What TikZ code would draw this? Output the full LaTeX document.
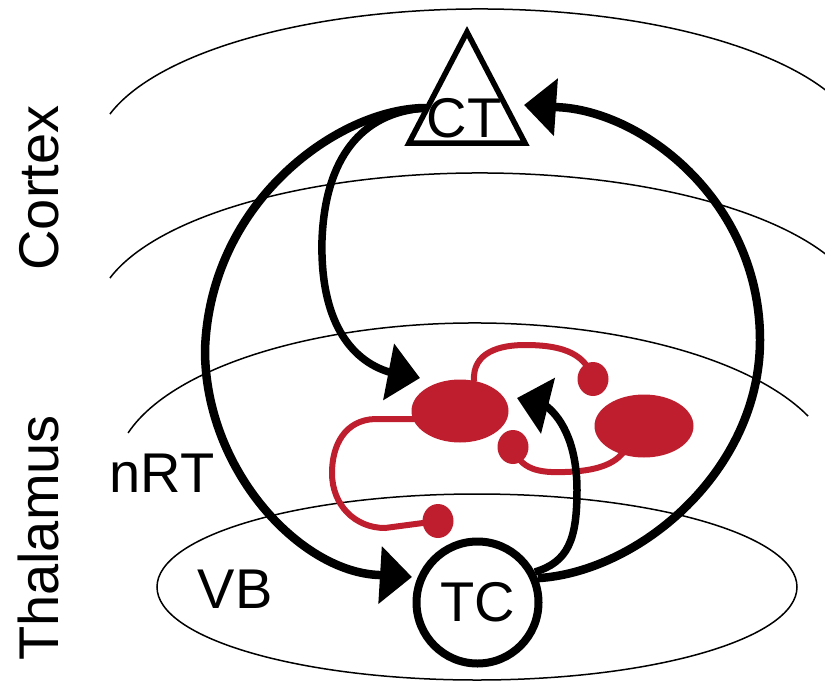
\documentclass[tikz,border=0pt]{standalone}
\usepackage{fontspec}
\setmainfont{Liberation Sans}
\usetikzlibrary{arrows.meta,shapes.geometric}
\definecolor{nrtred}{RGB}{190,30,45}
\begin{document}
\begin{tikzpicture}[x=1pt,y=-1pt,
  thinline/.style={line width=1.5pt},
  bigloop/.style={line width=8.5pt},
  innerarrow/.style={line width=7.5pt},
  bigtip/.style={-{Triangle[length=32pt,width=56pt]}},
  redline/.style={draw=nrtred,line width=6pt},
  lbl/.style={font=\fontsize{56}{60}\selectfont, inner sep=0pt},
  soma/.style={ellipse, fill=nrtred, inner sep=0pt},
  bouton/.style={ellipse, fill=nrtred, inner sep=0pt, minimum width=31pt, minimum height=34pt}]
\useasboundingbox (0,0) rectangle (825,683);
\clip (0,0) rectangle (825,683);

% layer boundaries
\draw[thinline] (480,154) ++(196:385 and 145) arc[start angle=196,end angle=345,x radius=385,y radius=145];
\draw[thinline] (480,318) ++(196:385 and 145) arc[start angle=196,end angle=345,x radius=385,y radius=145];
\draw[thinline] (475,473) ++(195.5:360 and 150) arc[start angle=195.5,end angle=337.7,x radius=360,y radius=150];
\draw[thinline] (477,587) ellipse[x radius=320,y radius=93];

% side labels
\node[lbl, rotate=90, anchor=base] (cortex) at (58,188) {Cortex};
\node[lbl, rotate=90, anchor=base] (thal) at (58,538) {Thalamus};
\node[lbl, anchor=base] (nrt) at (162,492) {nRT};
\node[lbl, anchor=base] (vb) at (235,608) {VB};

% red nRT neurons
\node[soma, minimum width=97pt, minimum height=63pt] (n1) at (460,411) {};
\node[soma, minimum width=99pt, minimum height=63pt] (n2) at (644,426) {};
\node[bouton] (b1) at (593,379) {};
\node[bouton] (b2) at (513,447) {};
\node[bouton] (b3) at (438,521) {};
\draw[redline] (n1.north) ++(14,2) .. controls (472,352) and (500,345) .. (525,345) .. controls (555,345) and (585,350) .. (b1.center);
\draw[redline] (n1.west) ++(4,8) -- (375,419) .. controls (345,420) and (332,445) .. (332,473) .. controls (332,505) and (355,528) .. (385,528) -- (b3.center);
\draw[redline] (b2.center) .. controls (520,470) and (540,473) .. (565,472) .. controls (595,471) and (615,465) .. (625,450);

% TC cell
\node[circle, draw, line width=8pt, fill=white, minimum size=122pt, inner sep=0pt, font=\fontsize{56}{60}\selectfont] (TC) at (477.5,602.5) {TC};

% connection points
\coordinate (ctL) at (426,108);
\coordinate (ctR) at (524,105);
\coordinate (tcin) at (412,577);
\coordinate (n1in) at (420,378);
\coordinate (n1up) at (517,398);

% connectors
\draw[bigloop,bigtip] (ctL) .. controls (340,108) and (210,200) .. (205,350) .. controls (205,470) and (300,572) .. (379,575) -- (tcin);
\draw[bigloop,bigtip] (TC.22) .. controls (640,572) and (760,470) .. (760,340) .. controls (760,200) and (640,108) .. (553,107) -- (ctR);
\draw[innerarrow,bigtip] (ctL) .. controls (360,112) and (325,160) .. (322,240) .. controls (320,320) and (350,360) .. (389,372) -- (n1in);
\draw[innerarrow,bigtip] (TC.28) .. controls (568,562) and (577,540) .. (577,490) .. controls (577,450) and (565,420) .. (545,405) -- (n1up);

% CT cell
\draw[line width=5.5pt, fill=white] (467,32) -- (525,143) -- (409,143) -- cycle;
\node[lbl, anchor=base] (CT) at (464,137) {CT};
\end{tikzpicture}
\end{document}
